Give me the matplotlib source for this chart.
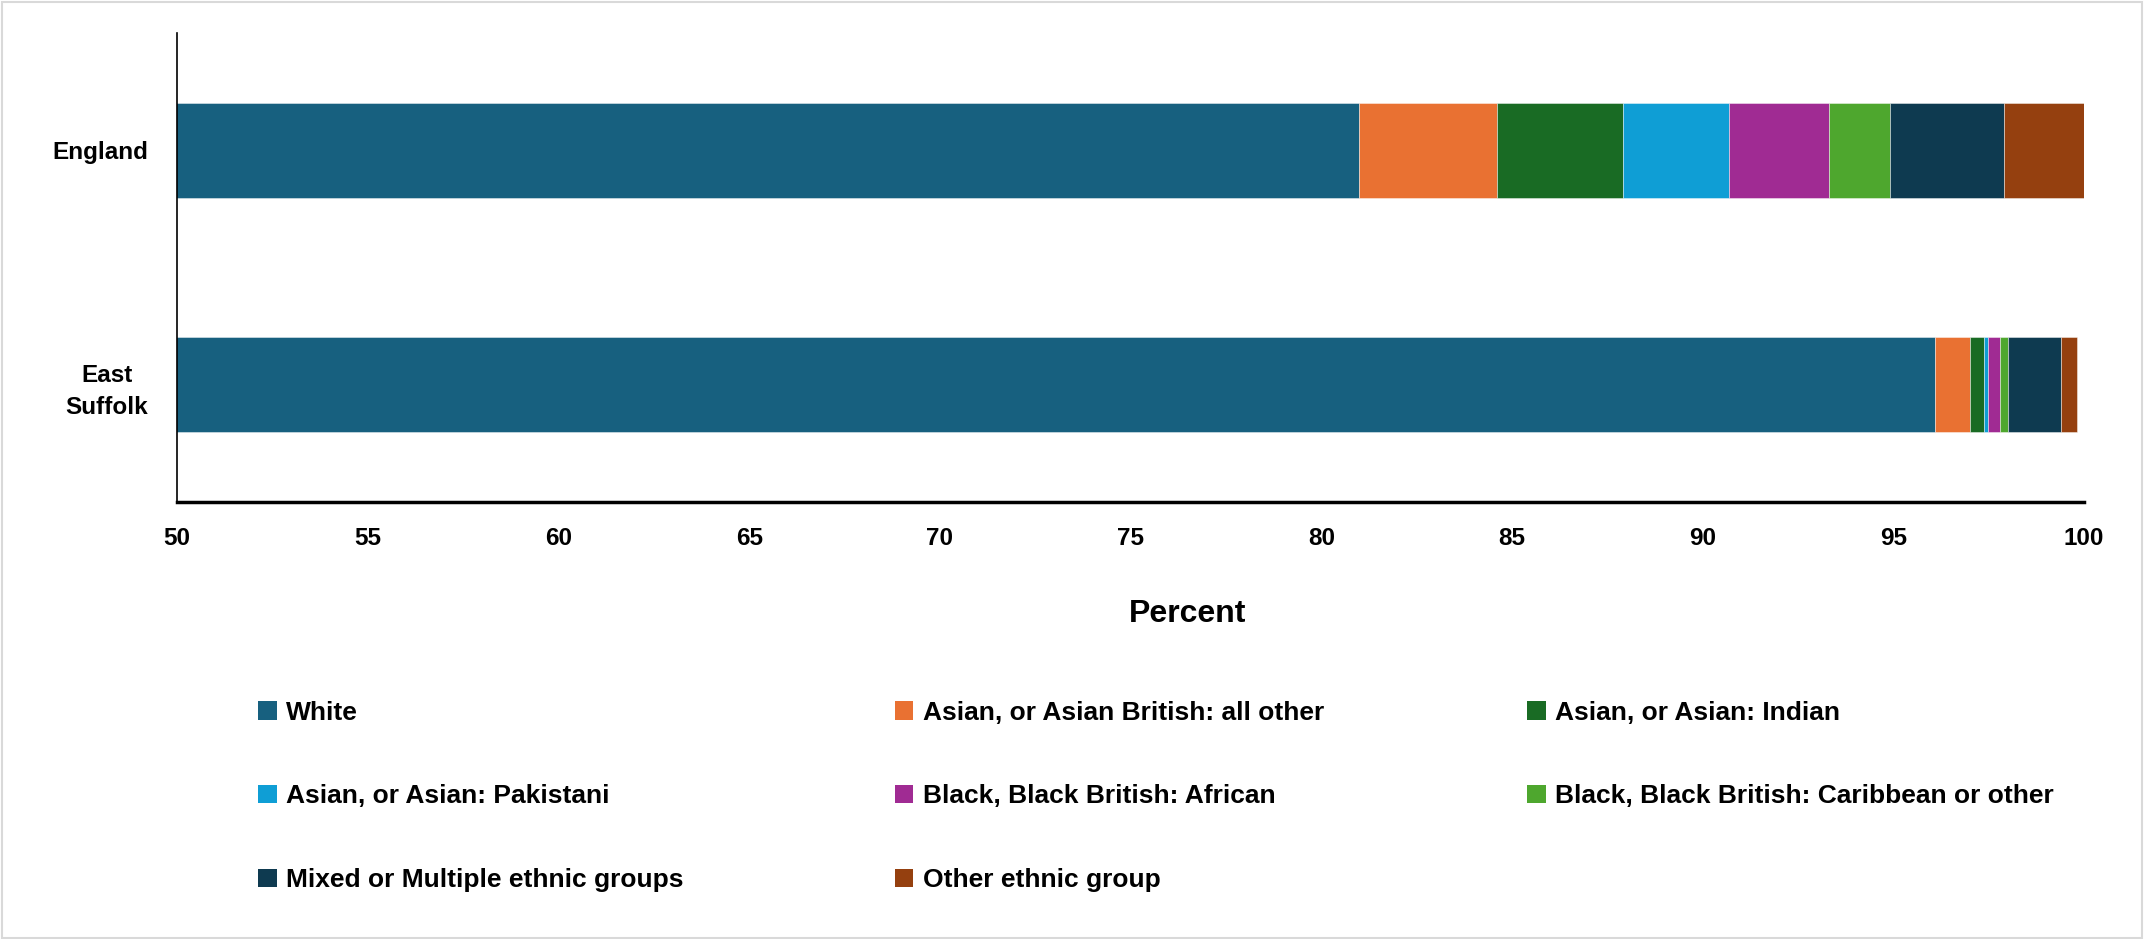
import numpy as np
import matplotlib.pyplot as plt
from matplotlib.patches import Patch, Rectangle

plt.rcParams['font.family'] = ['Liberation Sans', 'DejaVu Sans']
plt.rcParams['font.weight'] = 'bold'

areas = ['England', 'East\nSuffolk']
groups = ['White', 'Asian, or Asian British: all other', 'Asian, or Asian: Indian',
          'Asian, or Asian: Pakistani', 'Black, Black British: African',
          'Black, Black British: Caribbean or other', 'Mixed or Multiple ethnic groups',
          'Other ethnic group']
# percent of population, [England, East Suffolk]
white = [81.0, 96.1]
asian_other = [3.6, 0.9]
indian = [3.3, 0.37]
pakistani = [2.8, 0.11]
african = [2.6, 0.31]
caribbean = [1.6, 0.22]
mixed = [3.0, 1.38]
other = [2.1, 0.41]
colors = ['#17607F', '#E97132', '#196B24', '#0F9ED5', '#A02B93', '#4EA72E', '#0E3A50', '#95400F']

series = [white, asian_other, indian, pakistani, african, caribbean, mixed, other]

fig = plt.figure(figsize=(21.44, 9.39), dpi=100)
ax = fig.add_axes([0.0826, 0.4654, 0.8895, 0.4995])

y = np.arange(len(areas))
left = np.zeros(len(areas))
for vals, col, name in zip(series, colors, groups):
    ax.barh(y, vals, left=left, height=0.405, color=col, label=name,
            edgecolor=(1, 1, 1, 0.5), linewidth=0.6)
    left += np.array(vals)

ax.set_xlim(50, 100)
ax.set_ylim(1.5, -0.5)
ax.set_xticks(np.arange(50, 101, 5))
ax.set_yticks(y)
ax.set_yticklabels(areas, multialignment='center', linespacing=1.5)
ax.tick_params(axis='both', length=0, labelsize=17.5)
ax.tick_params(axis='x', pad=18)
ax.tick_params(axis='y', pad=21)
ax.set_xlabel('Percent', fontsize=23, fontweight='bold')
ax.xaxis.set_label_coords(0.53, -0.207)
for s in ['top', 'right']:
    ax.spines[s].set_visible(False)
ax.spines['left'].set_linewidth(1.2)
ax.spines['bottom'].set_linewidth(2.5)

# legend, laid out row by row in three fixed columns
col_x = [0.1155, 0.4125, 0.7075]
for c in range(3):
    idx = list(range(c, len(groups), 3))
    handles = [Patch(facecolor=colors[i]) for i in idx]
    fig.legend(handles, [groups[i] for i in idx], loc='upper left',
               bbox_to_anchor=(col_x[c], 0.265), frameon=False, fontsize=19,
               handlelength=0.7, handleheight=0.7, handletextpad=0.35,
               labelspacing=2.26, borderaxespad=0)

fig.patches.append(Rectangle((0.001, 0.001), 0.998, 0.997, transform=fig.transFigure,
                             fill=False, edgecolor='#d9d9d9', linewidth=1.5))

fig.savefig('out.png', dpi=100)
